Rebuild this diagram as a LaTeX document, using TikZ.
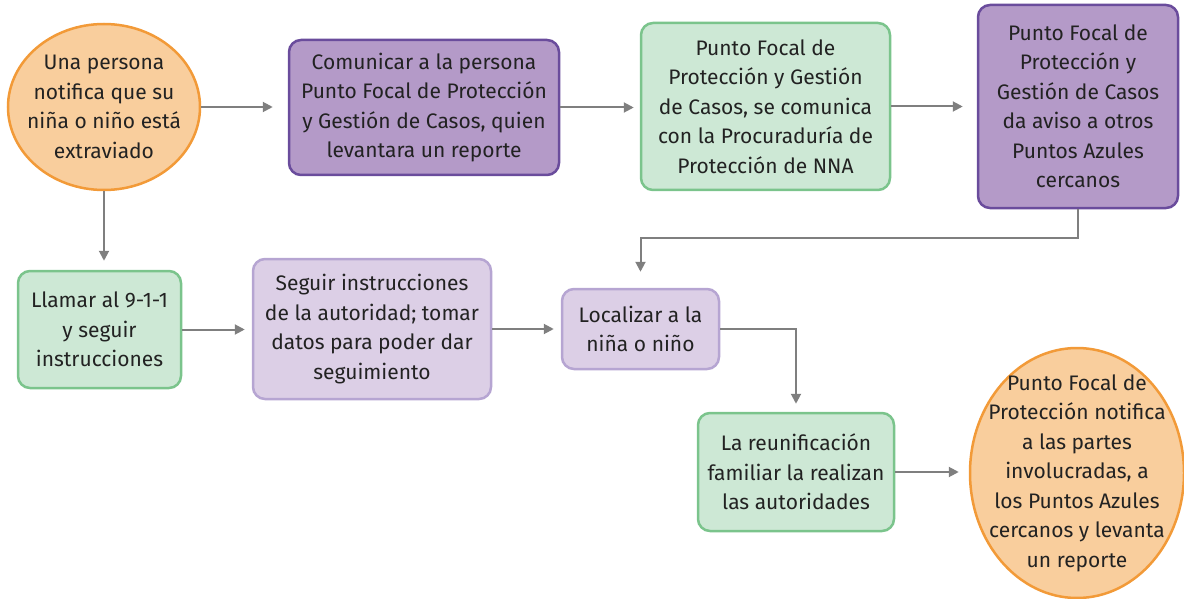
\documentclass[tikz,border=0pt]{standalone}
\usepackage{fontspec}
\setmainfont{Fira Sans}
\usepackage{tikz}
\usetikzlibrary{shapes.geometric,arrows.meta}

\definecolor{orangefill}{HTML}{F9CE9D}
\definecolor{orangeline}{HTML}{F29A38}
\definecolor{purplefill}{HTML}{B49AC8}
\definecolor{purpleline}{HTML}{6A4C9C}
\definecolor{lilacfill}{HTML}{DCCFE6}
\definecolor{lilacline}{HTML}{B6A5D2}
\definecolor{greenfill}{HTML}{CDE8D5}
\definecolor{greenline}{HTML}{7BC48C}
\definecolor{arrowgray}{HTML}{7F7F7F}
\definecolor{textdark}{HTML}{222222}

\begin{document}
\begin{tikzpicture}[x=1pt,y=-1pt]
	\tikzstyle{step_base} = [align=center, inner sep=0pt, line width=2.5pt, text=textdark, font=\fontsize{21}{29.5}\selectfont]
	\tikzstyle{step_orange} = [step_base, ellipse, inner sep=-30pt, draw=orangeline, fill=orangefill]
	\tikzstyle{step_purple} = [step_base, rectangle, rounded corners=12pt, draw=purpleline, fill=purplefill]
	\tikzstyle{step_lilac} = [step_base, rectangle, rounded corners=12pt, draw=lilacline, fill=lilacfill]
	\tikzstyle{step_green} = [step_base, rectangle, rounded corners=12pt, draw=greenline, fill=greenfill]
	\tikzstyle{flow_arrow} = [draw=arrowgray, line width=2pt, -{Triangle[length=10pt,width=10pt]}]

	\useasboundingbox (0,0) rectangle (1184,599);

%------------------------------------------------------------
	\node[step_orange, minimum width=192pt, minimum height=166pt] (aviso) at (104,107)
		{Una persona\\notifica que su\\niña o niño está\\extraviado};
	\node[step_purple, minimum width=270pt, minimum height=135pt] (comunicar) at (424,107.5)
		{Comunicar a la persona\\Punto Focal de Protección\\y Gestión de Casos, quien\\levantara un reporte};
	\node[step_green, minimum width=249pt, minimum height=167pt] (procuraduria) at (765.5,106.5)
		{Punto Focal de\\Protección y Gestión\\de Casos, se comunica\\con la Procuraduría de\\Protección de NNA};
	\node[step_purple, minimum width=200pt, minimum height=203pt] (puntos) at (1078,106.5)
		{Punto Focal de\\Protección y\\Gestión de Casos\\da aviso a otros\\Puntos Azules\\cercanos};

%------------------------------------------------------------
	\node[step_green, minimum width=163pt, minimum height=117pt] (llamar) at (99.5,329.5)
		{Llamar al 9-1-1\\y seguir\\instrucciones};
	\node[step_lilac, minimum width=238pt, minimum height=140pt] (seguir) at (372,329)
		{Seguir instrucciones\\de la autoridad; tomar\\datos para poder dar\\seguimiento};
	\node[step_lilac, minimum width=157pt, minimum height=80pt] (localizar) at (640.5,329)
		{Localizar a la\\niña o niño};

%------------------------------------------------------------
	\node[step_green, minimum width=196pt, minimum height=118pt] (reunificacion) at (796,472)
		{La reunificación\\familiar la realizan\\las autoridades};
	\node[step_orange, minimum width=214pt, minimum height=250pt] (notifica) at (1077,473)
		{Punto Focal de\\Protección notifica\\a las partes\\involucradas, a\\los Puntos Azules\\cercanos y levanta\\un reporte};

%------------------------------------------------------------
	\draw[flow_arrow, shorten >=15pt] (aviso.east) -- (aviso.east -| comunicar.west);
	\draw[flow_arrow, shorten >=6pt] (comunicar.east) -- (comunicar.east -| procuraduria.west);
	\draw[flow_arrow, shorten >=14pt] (procuraduria.east) -- (puntos.west);
	\draw[flow_arrow, shorten >=16pt] (puntos.south) -- ++(0,29) -| (localizar.north);
	\draw[flow_arrow, shorten >=9pt] (aviso.south) -- (aviso.south |- llamar.north);
	\draw[flow_arrow, shorten >=7pt] (llamar.east) -- (llamar.east -| seguir.west);
	\draw[flow_arrow, shorten >=7pt] (seguir.east) -- (localizar.west);
	\draw[flow_arrow, shorten >=8pt] (localizar.east) -| (reunificacion.north);
	\draw[flow_arrow, shorten >=10pt] (reunificacion.east) -- (reunificacion.east -| notifica.west);

\end{tikzpicture}
\end{document}
